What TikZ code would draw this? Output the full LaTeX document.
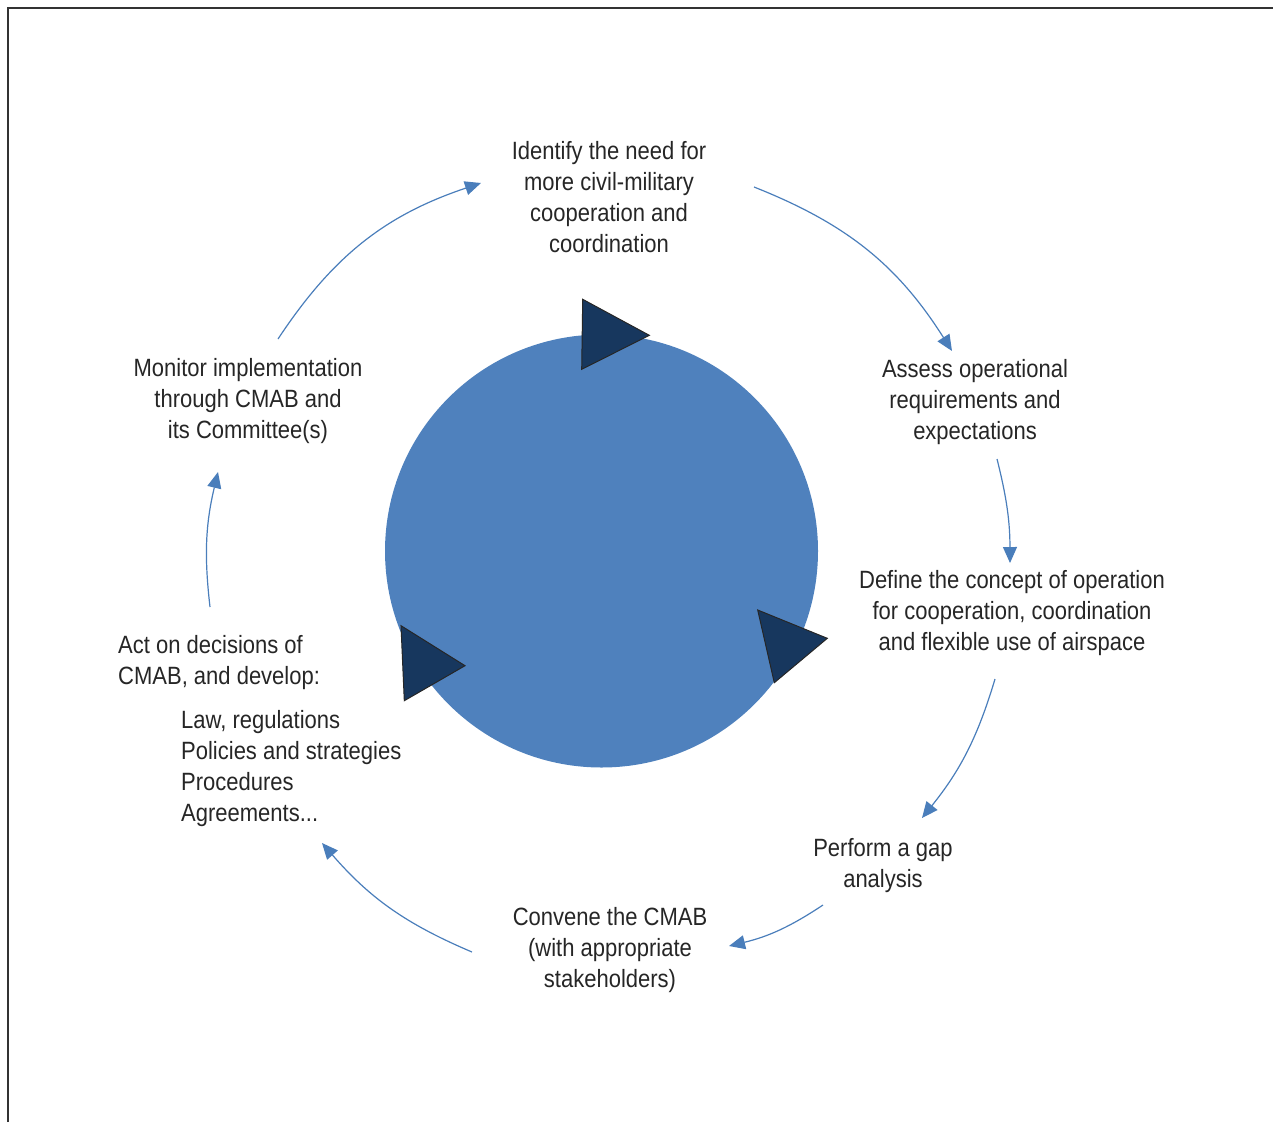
\documentclass[tikz,border=0pt]{standalone}
\usepackage{fontspec}
\setmainfont{Liberation Sans}[FakeStretch=0.88]
\usetikzlibrary{arrows.meta}
\definecolor{circblue}{HTML}{4F81BD}
\definecolor{arrblue}{HTML}{4A7EBB}
\definecolor{tridark}{HTML}{17375E}
\definecolor{txt}{HTML}{262626}
\begin{document}
\begin{tikzpicture}[x=1pt,y=-1pt,
  lbl/.style={text=txt, font=\fontsize{25}{31}\selectfont, align=center, inner sep=0pt},
  lblL/.style={lbl, align=left, anchor=west},
  cyc/.style={draw=arrblue, line width=1.2pt, -{Triangle[length=16pt,width=14pt]}},
  tri/.style={fill=tridark, draw=black!85, line width=1pt, line join=miter},
  frame/.style={draw=black!80, line width=1.6pt}]
\useasboundingbox (0,0) rectangle (1273,1122);
\draw[frame] (8,1122) -- (8,8) -- (1273,8);

% central disc and triangles
\node[circle, fill=circblue, minimum size=433pt, inner sep=0pt] (hub) at (601.5,551) {};
\draw[tri] (582.7,299.3) -- (649.3,335.3) -- (581.7,369.3) -- cycle;
\draw[tri] (757.7,610) -- (827.3,638.3) -- (774.3,682.7) -- cycle;
\draw[tri] (401,625.7) -- (465,665.7) -- (404.3,700.7) -- cycle;

% labels
\node[lbl] (identify) at (609,197) {Identify the need for\\more civil-military\\cooperation and\\coordination};
\node[lbl] (assess) at (975,402) {Assess operational\\requirements and\\expectations};
\node[lbl] (define) at (1012,613.5) {Define the concept of operation\\for cooperation, coordination\\and flexible use of airspace};
\node[lbl] (gap) at (883,866) {Perform a gap\\analysis};
\node[lbl] (convene) at (610,950) {Convene the CMAB\\(with appropriate\\stakeholders)};
\node[lblL] (act) at (118,663) {Act on decisions of\\CMAB, and develop:};
\node[lblL] (list) at (181,768.5) {Law, regulations\\Policies and strategies\\Procedures\\Agreements...};
\node[lbl] (monitor) at (248,401.5) {Monitor implementation\\through CMAB and\\its Committee(s)};

% cycle arrows
\coordinate (a1s) at (278,339);  \coordinate (a1e) at (481,183);
\coordinate (a2s) at (754,187);  \coordinate (a2e) at (952,351);
\coordinate (a3s) at (997,459);  \coordinate (a3e) at (1010,563);
\coordinate (a4s) at (995,679);  \coordinate (a4e) at (922,818);
\coordinate (a5s) at (823,905);  \coordinate (a5e) at (729,946);
\coordinate (a6s) at (472,952);  \coordinate (a6e) at (322,843);
\coordinate (a7s) at (210,607);  \coordinate (a7e) at (218,472);
\draw[cyc] (a1s) to[bend left=19] (a1e);
\draw[cyc] (a2s) to[bend left=18] (a2e);
\draw[cyc] (a3s) to[bend left=7] (a3e);
\draw[cyc] (a4s) to[bend left=11] (a4e);
\draw[cyc] (a5s) to[bend left=10] (a5e);
\draw[cyc] (a6s) to[bend left=13] (a6e);
\draw[cyc] (a7s) to[bend left=10] (a7e);
\end{tikzpicture}
\end{document}
